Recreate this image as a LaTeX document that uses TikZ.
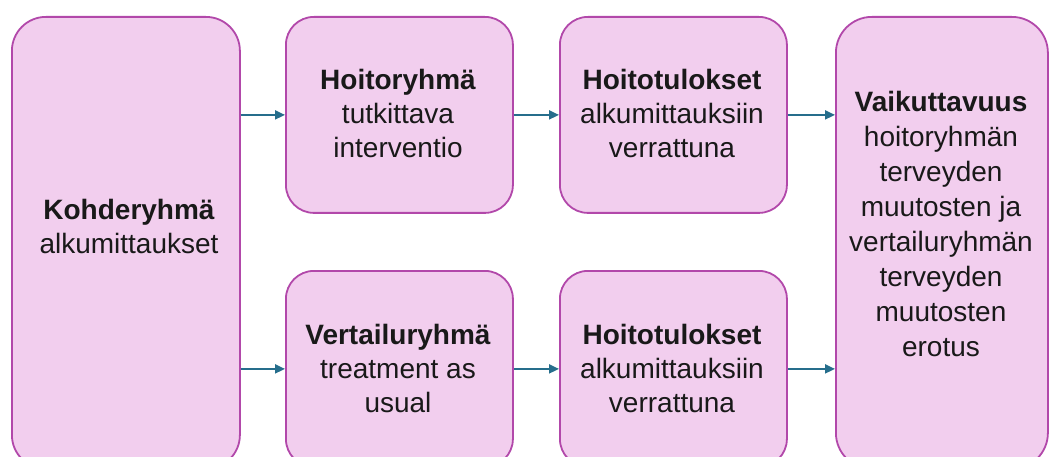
\documentclass[tikz,border=0pt]{standalone}
\usepackage{fontspec}
\setmainfont{Liberation Sans}
\usetikzlibrary{arrows.meta}
\definecolor{boxfill}{RGB}{242,206,238}
\definecolor{boxline}{RGB}{178,72,170}
\definecolor{arrcol}{RGB}{38,110,140}
\definecolor{txt}{RGB}{25,25,25}
\begin{document}
\begin{tikzpicture}[x=1pt,y=-1pt,
  box/.style={draw=boxline, fill=boxfill, line width=1.8pt, rounded corners=#1, anchor=north west, inner sep=0pt},
  box/.default=28pt,
  lbl/.style={align=center, text=txt, font=\fontsize{28}{34}\selectfont, inner sep=0pt},
  arr/.style={draw=arrcol, line width=2pt, -{Triangle[length=10pt,width=9pt]}}]
\useasboundingbox (0,0) rectangle (1049,457);
\fill[white] (0,0) rectangle (1049,457);
\begin{scope}
\clip (0,0) rectangle (1049,457);
\node[box=34pt, minimum width=228pt, minimum height=452pt] (b1) at (11,16) {};
\node[box, minimum width=227pt, minimum height=196pt] (b2) at (285,16) {};
\node[box, minimum width=227pt, minimum height=196pt] (b3) at (559,16) {};
\node[box=36pt, minimum width=212pt, minimum height=452pt] (b4) at (835,16) {};
\node[box, minimum width=227pt, minimum height=196pt] (b5) at (285,270) {};
\node[box, minimum width=227pt, minimum height=196pt] (b6) at (559,270) {};
\end{scope}
\node[lbl] (t1) at (129,226) {\textbf{Kohderyhmä}\\alkumittaukset};
\node[lbl] (t2) at (398,113.5) {\textbf{Hoitoryhmä}\\tutkittava\\interventio};
\node[lbl] (t3) at (672,113.5) {\textbf{Hoitotulokset}\\alkumittauksiin\\verrattuna};
\node[lbl] (t5) at (398,368) {\textbf{Vertailuryhmä}\\treatment as\\usual};
\node[lbl] (t6) at (672,368) {\textbf{Hoitotulokset}\\alkumittauksiin\\verrattuna};
\node[lbl, font=\fontsize{28}{35}\selectfont] (t4) at (941,224) {\textbf{Vaikuttavuus}\\hoitoryhmän\\terveyden\\muutosten ja\\vertailuryhmän\\terveyden\\muutosten\\erotus};
\draw[arr] (b1.east |- b2.west) -- (b2.west);
\draw[arr] (b1.east |- b5.west) -- (b5.west);
\draw[arr] (b2.east) -- (b3.west);
\draw[arr] (b5.east) -- (b6.west);
\draw[arr] (b3.east) -- (b4.west |- b3.east);
\draw[arr] (b6.east) -- (b4.west |- b6.east);
\end{tikzpicture}
\end{document}
